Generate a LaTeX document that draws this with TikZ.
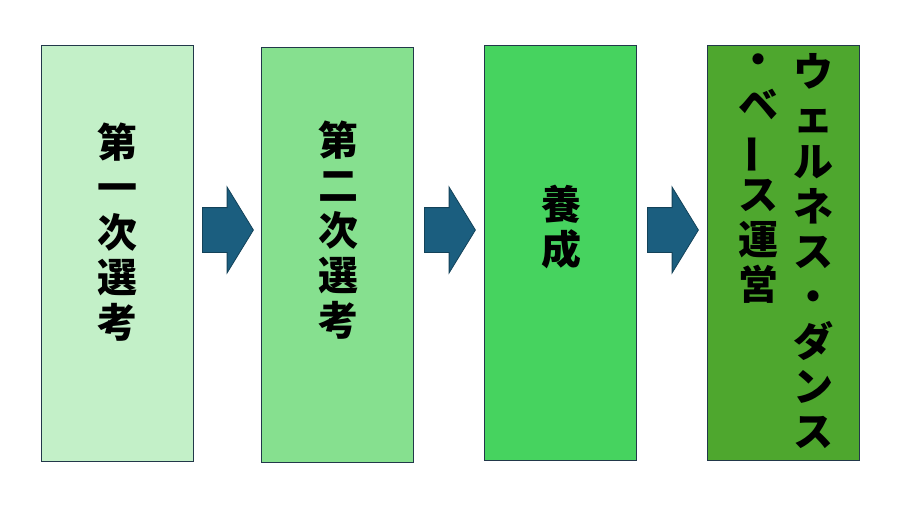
\documentclass[tikz,border=0pt]{standalone}
\usepackage{fontspec}
\usepackage{tikz}
\usetikzlibrary{shapes.arrows}
\newfontfamily\jpfont{Noto Sans CJK JP}
\definecolor{stageone}{HTML}{C3F0C8}
\definecolor{stagetwo}{HTML}{86E08F}
\definecolor{stagethree}{HTML}{46D35F}
\definecolor{stagefour}{HTML}{4EA72E}
\definecolor{arrowblue}{HTML}{1B5E7F}
\definecolor{boxline}{HTML}{22384A}
\newcommand{\vbar}{\rotatebox[origin=c]{90}{ー}}
\tikzset{
stagebox/.style={rectangle, draw=boxline, line width=1pt, inner sep=0pt, minimum width=152pt, minimum height=415pt},
vtext/.style={inner sep=0pt, align=center, anchor=north, font=\jpfont\bfseries\fontsize{40}{45}\selectfont},
stagearrow/.style={single arrow, fill=arrowblue, draw=arrowblue!70!black, line width=0.8pt, anchor=tail, minimum height=51pt, inner xsep=0pt, inner ysep=22pt, text height=0pt, text depth=0pt, single arrow head extend=20.5pt, single arrow tip angle=117},
}

\begin{document}
\begin{tikzpicture}[x=1pt,y=-1pt]
  \useasboundingbox (0,0) rectangle (900,507);

  \node[stagebox, fill=stageone, minimum height=416pt] at (117,253) (sel1) {};
  \node[stagebox, fill=stagetwo] at (337,254.5) (sel2) {};
  \node[stagebox, fill=stagethree] at (560,252.5) (train) {};
  \node[stagebox, fill=stagefour] at (783,252.5) (run) {};

  \node[vtext] at (117,123) (sel1text) {第\\一\\次\\選\\考};
  \node[vtext] at (338,121) (sel2text) {第\\二\\次\\選\\考};
  \node[vtext] at (561,185) (traintext) {養\\成};
  \node[vtext] at (813,53) (runtextA) {ウ\\ェ\\ル\\ネ\\ス\\・\\ダ\\ン\\ス};
  \node[vtext] at (758,53) (runtextB) {・\\ベ\\\vbar\\ス\\運\\営};

  \node[stagearrow] at (202,230) (ar1) {};
  \node[stagearrow] at (424,230) (ar2) {};
  \node[stagearrow] at (647,230) (ar3) {};
\end{tikzpicture}
\end{document}
